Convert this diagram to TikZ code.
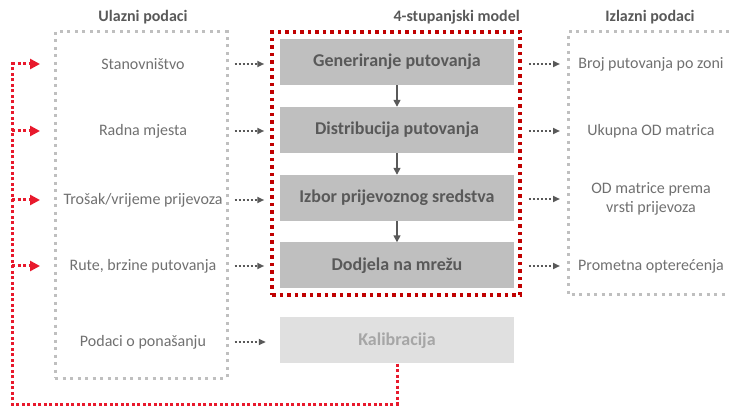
\documentclass[tikz,border=0pt]{standalone}
\usepackage{fontspec}
\setmainfont{Carlito}
\usetikzlibrary{arrows.meta}
\definecolor{txtgray}{HTML}{707070}
\definecolor{darkgray2}{HTML}{595959}
\definecolor{boxgray}{HTML}{BFBFBF}
\definecolor{dotgray}{HTML}{BFBFBF}
\definecolor{kalfill}{HTML}{E0E0E0}
\definecolor{kaltext}{HTML}{A6A6A6}
\definecolor{darkred}{HTML}{C00000}
\definecolor{brightred}{HTML}{E8192C}
\tikzset{
  lbl/.style={font=\fontsize{16}{19.5}\selectfont, text=txtgray, align=center, inner sep=0pt},
  ttl/.style={font=\bfseries\fontsize{16}{19}\selectfont, text=darkgray2, inner sep=0pt},
  stepbox/.style={fill=boxgray, minimum width=234pt, minimum height=46pt, inner sep=0pt,
     font=\bfseries\fontsize{18}{21}\selectfont, text=darkgray2},
  graybox/.style={draw=dotgray, line width=3pt, dash pattern=on 3pt off 4.5pt, inner sep=0pt},
  redbox/.style={draw=darkred, line width=3.5pt, dash pattern=on 3.5pt off 4pt, inner sep=0pt},
  smallarr/.style={draw=darkgray2, line width=2pt, dash pattern=on 2pt off 2pt, -{Triangle[length=7pt,width=6pt]}},
  fbline/.style={draw=brightred, line width=3pt, dash pattern=on 3pt off 2.5pt},
  fbarr/.style={fbline, -{Triangle[length=10pt,width=10pt]}},
  flowarr/.style={draw=darkgray2, line width=1.5pt, -{Triangle[length=7pt,width=7pt]}}
}
\begin{document}
\begin{tikzpicture}[x=1pt,y=-1pt]
\useasboundingbox (0,0) rectangle (729,406);
% titles
\node[ttl] (t1) at (143,17) {Ulazni podaci};
\node[ttl, anchor=east] (t2) at (520,17) {4-stupanjski model};
\node[ttl] (t3) at (650,17) {Izlazni podaci};
% containers
\node[graybox, minimum width=172pt, minimum height=346pt] (inbox) at (141,205) {};
\node[redbox, minimum width=248pt, minimum height=263pt] (model) at (396,163.5) {};
\coordinate (o1) at (729,32);
\coordinate (o2) at (568,32);
\coordinate (o3) at (568,295);
\coordinate (o4) at (729,295);
\draw[draw=dotgray, line width=3pt, dash pattern=on 3pt off 4.5pt] (o1) -- (o2) -- (o3) -- (o4);
% steps
\node[stepbox] (b1) at (397,62) {Generiranje putovanja};
\node[stepbox] (b2) at (397,130) {Distribucija putovanja};
\node[stepbox] (b3) at (397,198) {Izbor prijevoznog sredstva};
\node[stepbox] (b4) at (397,265.5) {Dodjela na mrežu};
\node[stepbox, fill=kalfill, text=kaltext] (kal) at (397,340.5) {Kalibracija};
\draw[flowarr] (b1) -- (b2);
\draw[flowarr] (b2) -- (b3);
\draw[flowarr] (b3) -- (b4);
% inputs
\node[lbl] (i1) at (143,64) {Stanovništvo};
\node[lbl] (i2) at (143,131) {Radna mjesta};
\node[lbl] (i3) at (143,200) {Trošak/vrijeme prijevoza};
\node[lbl] (i4) at (143,266) {Rute, brzine putovanja};
\node[lbl] (i5) at (143,342) {Podaci o ponašanju};
\foreach \i in {1,...,4}{
  \draw[smallarr, shorten <=6pt, shorten >=6pt] (inbox.east |- i\i) -- (model.west |- i\i);
}
\draw[smallarr, shorten <=6pt, shorten >=14pt] (inbox.east |- i5) -- (kal.west |- i5);
% outputs
\node[lbl] (r1) at (651,64) {Broj putovanja po zoni};
\node[lbl] (r2) at (651,131) {Ukupna OD matrica};
\node[lbl] (r3) at (651,199) {OD matrice prema\\vrsti prijevoza};
\node[lbl] (r4) at (651,266) {Prometna opterećenja};
\foreach \i/\y in {1/64,2/131,3/199,4/266}{
  \draw[smallarr, shorten <=7pt, shorten >=8pt] (model.east |- 0,\y) -- (o2 |- 0,\y);
}
% feedback
\coordinate (fA) at (397,404);
\coordinate (fB) at (12,404);
\coordinate (fC) at (12,62);
\draw[fbline] (kal.south) -- (fA) -- (fB) -- (fC);
\foreach \i/\y in {1/64,2/131,3/200,4/266}{
  \coordinate (fs\i) at (12,\y);
  \coordinate (fe\i) at (40,\y);
  \draw[fbarr] (fs\i) -- (fe\i);
}
\end{tikzpicture}
\end{document}
